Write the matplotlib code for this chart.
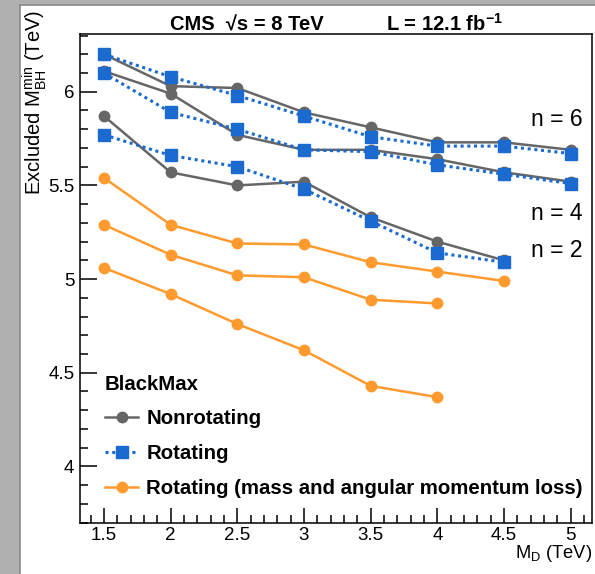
import matplotlib
matplotlib.use('Agg')
import matplotlib.pyplot as plt
from matplotlib.lines import Line2D
from matplotlib.patches import Rectangle
from matplotlib.ticker import MultipleLocator

plt.rcParams['font.family'] = ['Liberation Sans', 'DejaVu Sans']
plt.rcParams['mathtext.fontset'] = 'custom'
plt.rcParams['mathtext.rm'] = 'Liberation Sans'
plt.rcParams['mathtext.it'] = 'Liberation Sans:italic'
plt.rcParams['mathtext.bf'] = 'Liberation Sans:bold'

# M_D scan points (TeV)
md = [1.5, 2.0, 2.5, 3.0, 3.5, 4.0, 4.5, 5.0]

# Excluded M_BH^min (TeV), BlackMax nonrotating
nonrot_n6 = [6.20, 6.03, 6.02, 5.89, 5.81, 5.73, 5.73, 5.69]
nonrot_n4 = [6.11, 5.99, 5.77, 5.69, 5.69, 5.64, 5.57, 5.52]
nonrot_n2 = [5.87, 5.57, 5.50, 5.52, 5.33, 5.20, 5.10]

# rotating
rot_n6 = [6.20, 6.08, 5.98, 5.87, 5.76, 5.71, 5.71, 5.67]
rot_n4 = [6.10, 5.89, 5.80, 5.69, 5.68, 5.61, 5.56, 5.51]
rot_n2 = [5.77, 5.66, 5.60, 5.48, 5.31, 5.14, 5.09]

# rotating with mass and angular momentum loss
loss_a = [5.54, 5.29, 5.19, 5.185, 5.09, 5.04, 4.99]
loss_b = [5.29, 5.13, 5.02, 5.01, 4.89, 4.87]
loss_c = [5.06, 4.92, 4.76, 4.62, 4.43, 4.37]

n_labels = ['n = 6', 'n = 4', 'n = 2']
n_label_y = [5.85, 5.352, 5.154]

gray = '#666666'
blue = '#1a6ad0'
orange = '#ff9a2e'

fig = plt.figure(figsize=(5.95, 5.74), dpi=100)
fig.patch.set_facecolor('white')

# slide background strips
fig.patches.append(Rectangle((0, 0), 20 / 595, 1, transform=fig.transFigure,
                             facecolor='#b0b0b0', edgecolor='none', zorder=0))
fig.patches.append(Rectangle((0, 1 - 5 / 574), 1, 5 / 574, transform=fig.transFigure,
                             facecolor='#b0b0b0', edgecolor='none', zorder=0))
fig.add_artist(Line2D([20 / 595, 20 / 595], [0, 1 - 5 / 574], transform=fig.transFigure,
                      color='#8a8a8a', lw=1.2))
fig.add_artist(Line2D([20 / 595, 1], [1 - 5 / 574, 1 - 5 / 574], transform=fig.transFigure,
                      color='#8a8a8a', lw=1.2))

ax = fig.add_axes([80 / 595, 1 - 523 / 574, 512 / 595, 489.5 / 574])

line_kw = dict(color=gray, lw=1.8, marker='o', ms=7.5, zorder=3)
for vals in (nonrot_n6, nonrot_n4, nonrot_n2):
    ax.plot(md[:len(vals)], vals, **line_kw)

rot_kw = dict(color=blue, lw=2.2, ls=(0, (1, 1.2)), marker='s', ms=8, zorder=4)
for vals in (rot_n6, rot_n4, rot_n2):
    ax.plot(md[:len(vals)], vals, **rot_kw)

loss_kw = dict(color=orange, lw=1.8, marker='o', ms=7.5, zorder=5)
for vals in (loss_a, loss_b, loss_c):
    ax.plot(md[:len(vals)], vals, **loss_kw)

for lab, yv in zip(n_labels, n_label_y):
    ax.text(5.092, yv, lab, ha='right', va='center', fontsize=16.5)

ax.set_xlim(1.32, 5.16)
ax.set_ylim(3.698, 6.311)
ax.xaxis.set_minor_locator(MultipleLocator(0.1))
ax.yaxis.set_minor_locator(MultipleLocator(0.1))
ax.set_xticks([1.5, 2, 2.5, 3, 3.5, 4, 4.5, 5])
ax.set_xticklabels(['1.5', '2', '2.5', '3', '3.5', '4', '4.5', '5'])
ax.set_yticks([4, 4.5, 5, 5.5, 6])
ax.set_yticklabels(['4', '4.5', '5', '5.5', '6'])
ax.tick_params(which='both', direction='in', labelsize=13.5, width=1.1)
ax.tick_params(axis='y', which='major', length=12, pad=4)
ax.tick_params(axis='y', which='minor', length=6)
ax.tick_params(axis='x', which='major', length=11, pad=3)
ax.tick_params(axis='x', which='minor', length=6)
for s in ax.spines.values():
    s.set_linewidth(1.1)

handles = [Line2D([], [], **line_kw), Line2D([], [], **rot_kw), Line2D([], [], **loss_kw)]
labels = ['Nonrotating', 'Rotating', 'Rotating (mass and angular momentum loss)']
leg = ax.legend(handles, labels, title='BlackMax', loc='upper left',
                bbox_to_anchor=(25 / 512, 1 - 341 / 489.5), frameon=False,
                alignment='left', numpoints=1, handlelength=1.62, handletextpad=0.4,
                labelspacing=0.78, borderpad=0, borderaxespad=0,
                prop={'weight': 'bold', 'size': 14.7},
                title_fontproperties={'weight': 'bold', 'size': 14.7})

fig.text(170 / 595, 1 - 30.7 / 574, 'CMS  √s = 8 TeV',
         fontsize=14.5, fontweight='bold', va='baseline', ha='left')
fig.text(386 / 595, 1 - 30.7 / 574, 'L = 12.1 fb$^{\\mathbf{-1}}$',
         fontsize=14.5, fontweight='bold', va='baseline', ha='left')

fig.text(35 / 595, 1 - 10 / 574, 'Excluded M$_{\\mathrm{BH}}^{\\mathrm{min}}$ (TeV)',
         rotation=90, ha='center', va='top', fontsize=14.5)
fig.text(592 / 595, 1 - 558 / 574, 'M$_{\\mathrm{D}}$ (TeV)',
         ha='right', va='baseline', fontsize=13.2)

fig.savefig('out.png', dpi=100)
